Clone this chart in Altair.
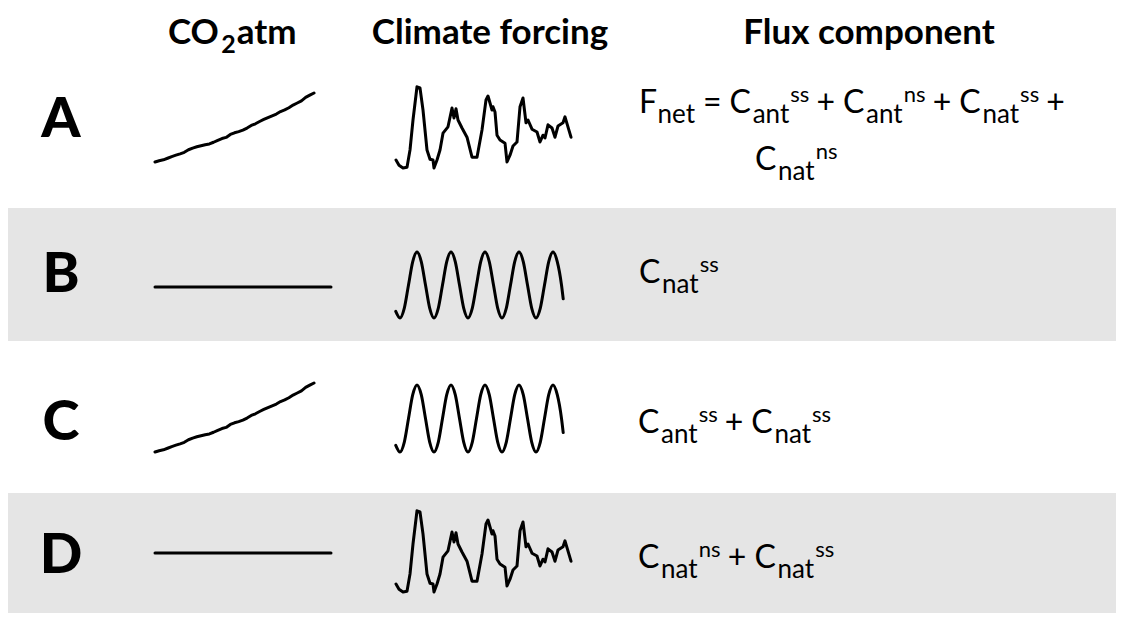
import altair as alt
import pandas as pd

# ---------------- data ----------------
row_letters = ["A", "B", "C", "D"]
header_titles = ["Climate forcing", "Flux component"]

# atmospheric CO2 (ppm), rising scenario (rows A and C)
co2_years = list(range(1980, 2019))
co2_ppm = [338.8, 340.1, 341.0, 342.6, 344.3, 345.7, 347.0, 348.6, 351.2, 352.9,
           354.2, 355.3, 356.3, 357.1, 358.8, 360.8, 362.6, 363.7, 366.7, 368.4,
           369.6, 371.1, 373.2, 375.8, 377.5, 379.8, 381.9, 383.8, 385.6, 387.4,
           389.9, 391.6, 393.8, 396.5, 398.6, 400.8, 404.2, 406.5, 408.7]
# constant CO2 scenario (rows B and D)
flat_years = [1980, 2018]
flat_ppm = [280.0, 280.0]

# variable climate forcing (rows A and D)
forcing_t = [0, 3, 7, 11, 14, 17, 21, 24, 27, 31, 34, 37, 38, 41, 44, 47, 52, 56, 58, 60,
             62, 66, 71, 76, 81, 86, 90, 92, 96, 97, 99, 101, 104, 109, 111, 114, 117, 121,
             124, 127, 130, 132, 136, 141, 144, 147, 149, 152, 156, 159, 162, 167, 169, 175]
forcing_v = [-0.80, -0.93, -1.00, -0.98, -0.55, 0.20, 1.03, 1.00, 0.45, -0.55, -0.78, -0.80,
             -1.00, -0.80, -0.55, -0.13, 0.03, 0.50, 0.25, 0.48, 0.20, 0.00, -0.23, -0.73,
             -0.73, -0.05, 0.70, 0.80, 0.45, 0.53, 0.40, -0.18, -0.30, -0.38, -0.85, -0.68,
             -0.45, -0.35, 0.53, 0.75, 0.13, 0.20, -0.03, -0.10, -0.35, -0.18, -0.25, 0.08,
             0.00, -0.23, 0.05, 0.13, 0.28, -0.23]

# idealised cyclic climate forcing (rows B and C), sampled every 1/8 cycle
cycle_step = [-1, 0, 1, 2, 3, 4, 5, 6, 7, 8, 9, 10, 11, 12, 13, 14, 15, 16, 17, 18, 19,
              20, 21, 22, 23, 24, 25, 26, 27, 28, 29, 30, 31, 32, 33, 34, 35, 36, 37, 38, 38.4]
cycle_v = [-0.80, -1.00, -0.71, 0.00, 0.71, 1.00, 0.71, 0.00, -0.71,
           -1.00, -0.71, 0.00, 0.71, 1.00, 0.71, 0.00, -0.71,
           -1.00, -0.71, 0.00, 0.71, 1.00, 0.71, 0.00, -0.71,
           -1.00, -0.71, 0.00, 0.71, 1.00, 0.71, 0.00, -0.71,
           -1.00, -0.71, 0.00, 0.71, 1.00, 0.71, 0.00, -0.42]

# flux-component formulas: (text, role) with role m=main, b=subscript, p=superscript,
# o=operator (main size, spaced)
formula_A1 = [("F", "m"), ("net", "b"), ("=", "o"), ("C", "m"), ("ant", "b"), ("ss", "p"),
              ("+", "o"), ("C", "m"), ("ant", "b"), ("ns", "p"), ("+", "o"),
              ("C", "m"), ("nat", "b"), ("ss", "p"), ("+", "o")]
formula_A2 = [("C", "m"), ("nat", "b"), ("ns", "p")]
formula_B = [("C", "m"), ("nat", "b"), ("ss", "p")]
formula_C = [("C", "m"), ("ant", "b"), ("ss", "p"), ("+", "o"), ("C", "m"), ("nat", "b"), ("ss", "p")]
formula_D = [("C", "m"), ("nat", "b"), ("ns", "p"), ("+", "o"), ("C", "m"), ("nat", "b"), ("ss", "p")]

# ---------------- layout (page pixels) ----------------
M = 8  # page margin
W, H = 1108, 605
FONT = "Lato"
BLACK = "#000000"
BAND = "#e5e5e5"


def P(v):
    return v - M


# approximate Lato advance widths (em) used to chain the formula pieces
EM = {"F": 0.55, "C": 0.69, "=": 0.58, "+": 0.58, "a": 0.50, "n": 0.55, "t": 0.36,
      "e": 0.53, "s": 0.41}
role_size = {"m": 32, "o": 32, "b": 26, "p": 22}
role_dy = {"m": 0, "o": 0, "b": 10, "p": -11}
OP_GAP = 7


def width(txt, size):
    return sum(EM.get(ch, 0.5) for ch in txt) * size


formula_layout = [
    (formula_A1, 639, 113),
    (formula_A2, 755, 170),
    (formula_B, 639, 283),
    (formula_C, 638, 433),
    (formula_D, 638, 568),
]

pieces = []
for tokens, x0, base in formula_layout:
    x = x0
    for txt, role in tokens:
        if role == "o":
            x += OP_GAP
        pieces.append({"t": txt, "role": role, "x": P(x), "y": P(base + role_dy[role])})
        x += width(txt, role_size[role]) + 1
        if role == "o":
            x += OP_GAP
pieces = pd.DataFrame(pieces)

layers = []

# grey bands behind rows B and D
bands = pd.DataFrame({"row": ["B", "D"], "top": [P(208), P(493)], "bot": [P(341), P(613)]})
layers.append(
    alt.Chart(bands).mark_rect(color=BAND).encode(
        x=alt.value(0), x2=alt.value(W),
        y=alt.Y("top:Q", scale=None, axis=None), y2=alt.Y2("bot:Q"),
    )
)

# formula text pieces
for role in ["m", "o", "b", "p"]:
    layers.append(
        alt.Chart(pieces[pieces.role == role]).mark_text(
            font=FONT, fontSize=role_size[role], align="left", baseline="alphabetic", color=BLACK
        ).encode(
            x=alt.X("x:Q", scale=None, axis=None),
            y=alt.Y("y:Q", scale=None, axis=None),
            text="t:N",
        )
    )

# row letters
letters = pd.DataFrame({"t": row_letters, "y": [P(137), P(292), P(440), P(573)]})
layers.append(
    alt.Chart(letters).mark_text(
        font=FONT, fontSize=56, fontWeight=900, align="center", baseline="alphabetic", color=BLACK
    ).encode(x=alt.value(P(61)), y=alt.Y("y:Q", scale=None, axis=None), text="t:N")
)

# column headers
HS = 35
HB = 44
hdr = pd.DataFrame({"t": header_titles, "x": [P(490), P(869)]})
layers.append(
    alt.Chart(hdr).mark_text(
        font=FONT, fontSize=HS, fontWeight="bold", align="center", baseline="alphabetic", color=BLACK
    ).encode(x=alt.X("x:Q", scale=None, axis=None), y=alt.value(P(HB)), text="t:N")
)
co_w = (0.69 + 0.80) * HS
two_w = 0.58 * 25
co2_hdr = pd.DataFrame({"t": ["CO", "atm"], "x": [P(168), P(168 + co_w + two_w + 2)]})
layers.append(
    alt.Chart(co2_hdr).mark_text(
        font=FONT, fontSize=HS, fontWeight="bold", align="left", baseline="alphabetic", color=BLACK
    ).encode(x=alt.X("x:Q", scale=None, axis=None), y=alt.value(P(HB)), text="t:N")
)
layers.append(
    alt.Chart(pd.DataFrame({"t": ["2"]})).mark_text(
        font=FONT, fontSize=25, fontWeight="bold", align="left", baseline="alphabetic", color=BLACK
    ).encode(x=alt.value(P(168 + co_w + 1)), y=alt.value(P(HB + 9)), text="t:N")
)


def curve(df, xf, yf, xdom, xr, ydom, yr, interp="linear"):
    return alt.Chart(df).mark_line(
        color=BLACK, strokeWidth=3, interpolate=interp, strokeCap="round", strokeJoin="round"
    ).encode(
        x=alt.X(f"{xf}:Q", scale=alt.Scale(domain=xdom, range=[P(xr[0]), P(xr[1])], nice=False, zero=False), axis=None),
        y=alt.Y(f"{yf}:Q", scale=alt.Scale(domain=ydom, range=[P(yr[0]), P(yr[1])], nice=False, zero=False), axis=None),
        order=alt.Order(f"{xf}:Q"),
    )


co2_df = pd.DataFrame({"year": co2_years, "ppm": co2_ppm})
flat_df = pd.DataFrame({"year": flat_years, "ppm": flat_ppm})
forc_df = pd.DataFrame({"t": forcing_t, "v": forcing_v})
cyc_df = pd.DataFrame({"k": cycle_step, "v": cycle_v})

co2_dom = [co2_ppm[0], co2_ppm[-1]]
# CO2 column
layers.append(curve(co2_df, "year", "ppm", [1980, 2018], [155, 314], co2_dom, [162, 93]))       # A
layers.append(curve(flat_df, "year", "ppm", [1980, 2018], [155, 331], [270, 290], [297, 277]))  # B
layers.append(curve(co2_df, "year", "ppm", [1980, 2018], [155, 314], co2_dom, [452, 383]))       # C
layers.append(curve(flat_df, "year", "ppm", [1980, 2018], [155, 331], [270, 290], [563, 543]))  # D

# Climate forcing column
layers.append(curve(forc_df, "t", "v", [0, 175], [396, 571], [-1, 1], [168, 88]))                # A
layers.append(curve(cyc_df, "k", "v", [0, 38], [400, 561.5], [-1, 1], [318, 252], "monotone"))   # B
layers.append(curve(cyc_df, "k", "v", [0, 38], [400, 561.5], [-1, 1], [452, 385], "monotone"))   # C
layers.append(curve(forc_df, "t", "v", [0, 175], [396, 571], [-1, 1], [592, 512]))               # D

chart = alt.layer(*layers).resolve_scale(x="independent", y="independent").properties(
    width=W, height=H, padding=0, autosize="none", background="white"
).configure_view(stroke=None)

chart.save("out.html", embed_options={"renderer": "svg", "actions": False})
